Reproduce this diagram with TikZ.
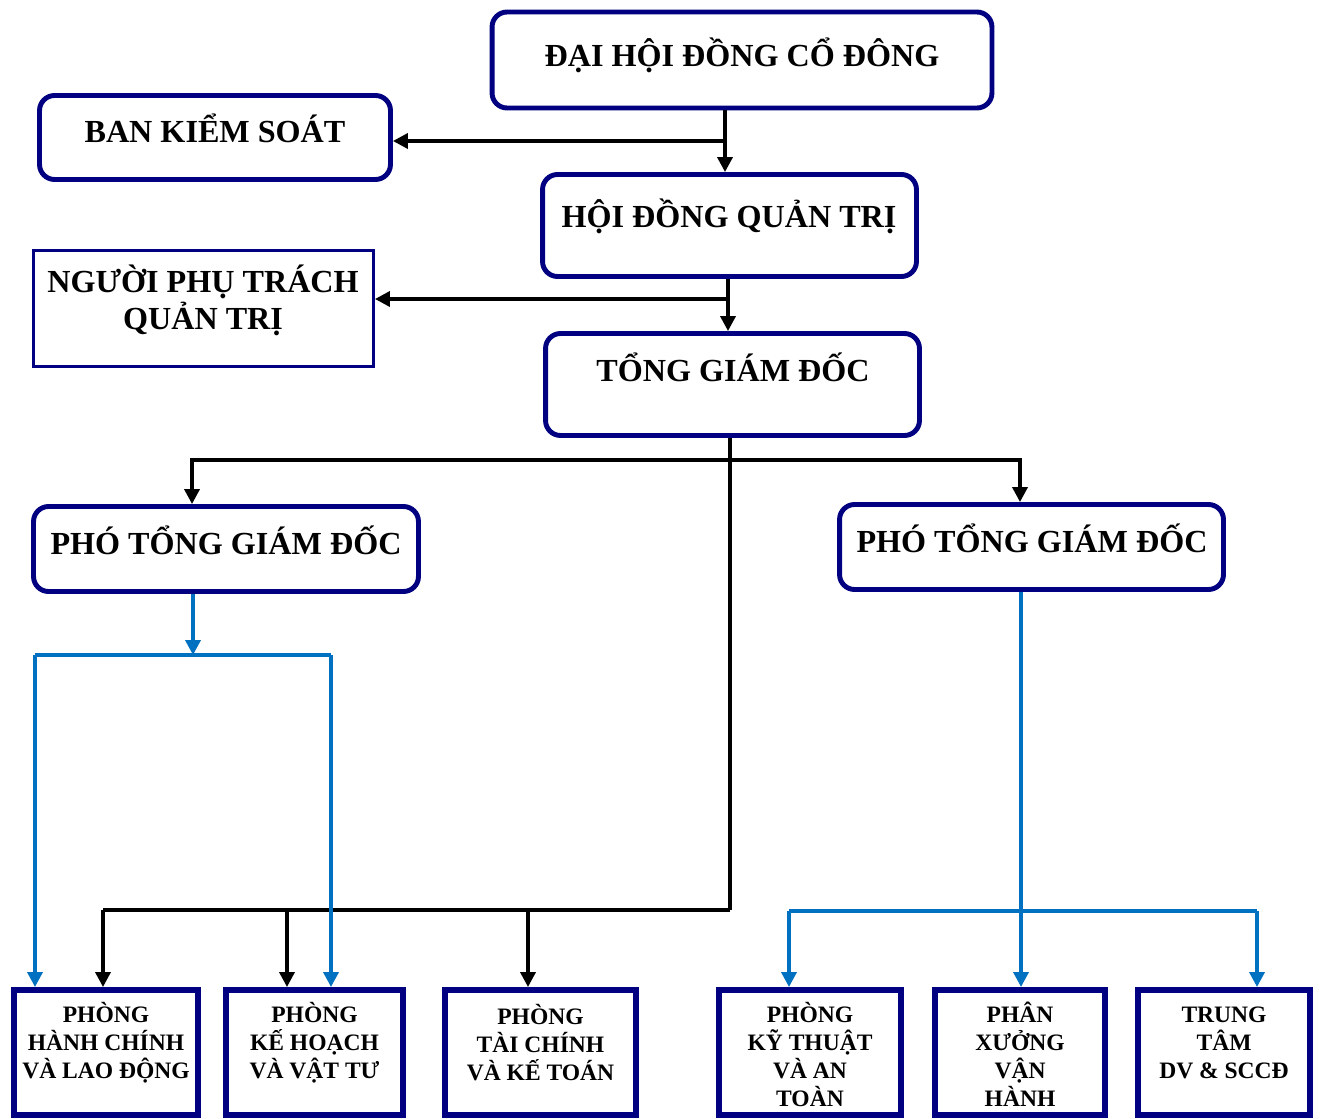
\documentclass[tikz,border=0pt]{standalone}
\usepackage{fontspec}
\setmainfont{Liberation Serif}
\usetikzlibrary{arrows.meta}
\definecolor{navy}{RGB}{0,0,128}
\definecolor{lineblue}{RGB}{0,112,192}

\begin{document}
\begin{tikzpicture}[x=0.02cm, y=-0.02cm,
    roundbox/.style={draw=navy, line width=2.8pt, rounded corners=0.3cm, inner sep=0pt},
    plainbox/.style={draw=navy, line width=1.7pt, inner sep=0pt},
    unitbox/.style={draw=navy, line width=3.4pt, inner sep=0pt, minimum height=2.5cm},
    bigtext/.style={font=\bfseries\fontsize{18.3}{21}\selectfont, align=center, inner sep=0pt},
    smalltext/.style={font=\bfseries\fontsize{13.4}{15.9}\selectfont, align=center, inner sep=0pt},
    conn/.style={draw=black, line width=2pt},
    arr/.style={conn, -{Triangle[length=0.3cm, width=0.3cm]}},
    blueconn/.style={draw=lineblue, line width=2pt},
    bluearr/.style={blueconn, -{Triangle[length=0.3cm, width=0.3cm]}}]
    \useasboundingbox (0,0) rectangle (1327,1118);

    \node[roundbox, minimum width=10cm, minimum height=1.92cm] (dhdcd) at (742,60) {};
    \node[bigtext] (tdhdcd) at (742,55) {ĐẠI HỘI ĐỒNG CỔ ĐÔNG};
    \node[roundbox, minimum width=7.02cm, minimum height=1.68cm] (bks) at (215,137.5) {};
    \node[bigtext] (tbks) at (215,128) {BAN KIỂM SOÁT};
    \node[roundbox, minimum width=7.48cm, minimum height=2.04cm] (hdqt) at (729.5,225.5) {};
    \node[bigtext] (thdqt) at (729,216) {HỘI ĐỒNG QUẢN TRỊ};
    \node[plainbox, minimum width=6.8cm, minimum height=2.32cm] (npt) at (203.5,308.5) {};
    \node[bigtext] (tnpt) at (203,300) {NGƯỜI PHỤ TRÁCH\\QUẢN TRỊ};
    \node[roundbox, minimum width=7.48cm, minimum height=2.04cm] (tgd) at (732.5,384.5) {};
    \node[bigtext] (ttgd) at (733,367) {TỔNG GIÁM ĐỐC};
    \node[roundbox, minimum width=7.7cm, minimum height=1.7cm] (ptgda) at (226,549) {};
    \node[bigtext] (tptgda) at (226,540) {PHÓ TỔNG GIÁM ĐỐC};
    \node[roundbox, minimum width=7.68cm, minimum height=1.7cm] (ptgdb) at (1031.5,547) {};
    \node[bigtext] (tptgdb) at (1032,538) {PHÓ TỔNG GIÁM ĐỐC};

    \foreach \n/\x/\w/\y/\t in {
        hc/106/3.68/1043/{PHÒNG\\HÀNH CHÍNH\\VÀ LAO ĐỘNG},
        kh/314.5/3.54/1043/{PHÒNG\\KẾ HOẠCH\\VÀ VẬT TƯ},
        tc/540.5/3.82/1043/{PHÒNG\\TÀI CHÍNH\\VÀ KẾ TOÁN},
        kt/810/3.64/1054.5/{PHÒNG\\KỸ THUẬT\\VÀ AN\\TOÀN},
        px/1020/3.4/1054.5/{PHÂN\\XƯỞNG\\VẬN\\HÀNH},
        tt/1224/3.44/1043/{TRUNG\\TÂM\\DV \& SCCĐ}} {
      \node[unitbox, minimum width=\w cm] (\n) at (\x,1052.5) {};
      \node[smalltext] (t\n) at (\x,\y) {\t};
    }

    \coordinate (j1) at (725,141);
    \draw[arr] (dhdcd.south -| j1) -- (hdqt.north -| j1);
    \draw[arr] (j1) -- (bks.east |- j1);

    \coordinate (j2) at (728,299);
    \draw[arr] (hdqt.south -| j2) -- (tgd.north -| j2);
    \draw[arr] (j2) -- (npt.east |- j2);

    \coordinate (j3) at (730,460);
    \coordinate (j4) at (730,910);
    \coordinate (a1) at (192,460);
    \coordinate (a2) at (1020,460);
    \draw[conn] (tgd.south -| j3) -- (j4);
    \draw[arr] (j3) -- (a1) -- (a1 |- ptgda.north);
    \draw[arr] (j3) -- (a2) -- (a2 |- ptgdb.north);

    \coordinate (b1) at (103,910);
    \coordinate (b2) at (287,910);
    \coordinate (b3) at (528,910);
    \draw[conn] (j4) -- (b1);
    \foreach \c/\n in {b1/hc, b2/kh, b3/tc}
      \draw[arr] (\c) -- (\c |- \n.north);

    \coordinate (c0) at (193,655);
    \coordinate (c1) at (35,655);
    \coordinate (c2) at (331,655);
    \draw[bluearr] (ptgda.south -| c0) -- (c0);
    \draw[blueconn] (c1) -- (c2);
    \draw[bluearr] (c1) -- (c1 |- hc.north);
    \draw[bluearr] (c2) -- (c2 |- kh.north);

    \coordinate (d0) at (1021,911);
    \coordinate (d1) at (789,911);
    \coordinate (d2) at (1257,911);
    \draw[bluearr] (ptgdb.south -| d0) -- (d0 |- px.north);
    \draw[blueconn] (d1) -- (d2);
    \draw[bluearr] (d1) -- (d1 |- kt.north);
    \draw[bluearr] (d2) -- (d2 |- tt.north);
\end{tikzpicture}
\end{document}
